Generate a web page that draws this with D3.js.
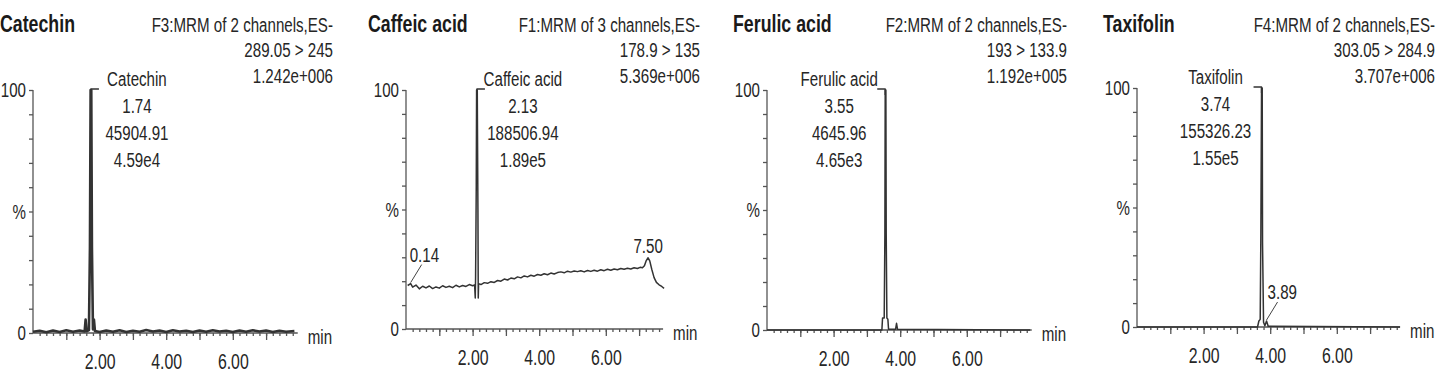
<!DOCTYPE html>
<html>
<head>
<meta charset="utf-8">
<script src="https://cdn.jsdelivr.net/npm/d3@7"></script>
<style>
  body { margin: 0; background: #fff; }
  svg { display: block; }
  text { font-family: "Liberation Sans", Arial, sans-serif; fill: #262626; }
  .title { font-weight: bold; font-size: 24px; fill: #1a1a1a; }
  .head, .peak-label, .small-label, .unit { font-size: 21px; }
  .axis path, .axis line { stroke: #555; stroke-width: 1.3; }
  .axis text { font-size: 21px; fill: #262626; }
  .axis .xlab text { font-size: 22px; }
  .trace { fill: none; stroke: #333; stroke-linejoin: round; }
</style>
</head>
<body>
<div id="vis"></div>
<script>
// chart data
var compounds = ["Catechin", "Caffeic acid", "Ferulic acid", "Taxifolin"];

var channelHeaders = [
  ["F3:MRM of 2 channels,ES-", "289.05 > 245", "1.242e+006"],
  ["F1:MRM of 3 channels,ES-", "178.9 > 135", "5.369e+006"],
  ["F2:MRM of 2 channels,ES-", "193 > 133.9", "1.192e+005"],
  ["F4:MRM of 2 channels,ES-", "303.05 > 284.9", "3.707e+006"]
];

var peakTimes = [1.74, 2.13, 3.55, 3.74];
var peakLabels = [
  ["Catechin", "1.74", "45904.91", "4.59e4"],
  ["Caffeic acid", "2.13", "188506.94", "1.89e5"],
  ["Ferulic acid", "3.55", "4645.96", "4.65e3"],
  ["Taxifolin", "3.74", "155326.23", "1.55e5"]
];

// extra small peak labels: [panel, time, %, text]
var minorPeaks = [
  [1, 0.14, 19.0, "0.14"],
  [1, 7.27, 29.8, "7.50"],
  [3, 3.89, 2.5, "3.89"]
];

var xTickValues = [2, 4, 6];
var xTickLabels = ["2.00", "4.00", "6.00"];
var yTickValues = [0, 10, 20, 30, 40, 50, 60, 70, 80, 90, 100];
var yTickLabels = ["0", "", "", "", "", "%", "", "", "", "", "100"];

// traces: [time (min), intensity %]
var catechinTrace = [
  [0.0, 0.5], [0.2, 0.9], [0.4, 0.3], [0.6, 1.0], [0.8, 0.4], [1.0, 1.1], [1.2, 0.5],
  [1.4, 1.0], [1.55, 0.6], [1.58, 5.5], [1.61, 0.7], [1.68, 1.2], [1.71, 35], [1.73, 100],
  [1.75, 100], [1.77, 35], [1.80, 1.5], [1.83, 5.5], [1.86, 0.8], [2.0, 0.4], [2.2, 1.0],
  [2.4, 0.5], [2.6, 1.1], [2.8, 0.4], [3.0, 0.9], [3.2, 0.5], [3.4, 1.2], [3.6, 0.6],
  [3.8, 1.0], [4.0, 0.4], [4.2, 1.1], [4.4, 0.6], [4.6, 0.9], [4.8, 0.4], [5.0, 1.0],
  [5.2, 0.5], [5.4, 1.1], [5.6, 0.6], [5.8, 0.9], [6.0, 0.4], [6.2, 1.0], [6.4, 0.5],
  [6.6, 1.1], [6.8, 0.6], [7.0, 1.0], [7.2, 0.4], [7.4, 0.9], [7.6, 0.5], [7.85, 0.8]
];

var caffeicTrace = [
  [0.05, 18.2], [0.14, 19.0], [0.2, 17.5], [0.3, 18.4], [0.4, 16.8], [0.5, 17.9], [0.6, 17.2],
  [0.7, 18.0], [0.8, 16.9], [0.9, 17.6], [1.0, 17.1], [1.1, 18.1], [1.2, 17.4], [1.3, 17.9],
  [1.4, 17.3], [1.5, 18.3], [1.6, 17.6], [1.7, 18.2], [1.8, 17.8], [1.9, 18.6], [2.0, 18.1],
  [2.06, 18.4], [2.08, 13], [2.09, 22], [2.11, 60], [2.12, 100], [2.14, 100], [2.16, 50],
  [2.17, 13], [2.18, 19.0], [2.25, 18.6], [2.35, 19.4], [2.45, 19.1], [2.55, 19.8],
  [2.65, 19.5], [2.75, 20.3], [2.85, 20.0], [2.95, 20.9], [3.05, 20.5], [3.15, 21.3],
  [3.25, 21.0], [3.35, 21.8], [3.45, 21.4], [3.55, 22.2], [3.65, 21.8], [3.75, 22.5],
  [3.85, 22.1], [3.95, 22.8], [4.05, 22.5], [4.15, 23.1], [4.25, 22.7], [4.35, 23.4],
  [4.45, 23.0], [4.55, 23.6], [4.65, 23.9], [4.75, 23.5], [4.85, 24.2], [4.95, 23.8],
  [5.05, 24.3], [5.15, 24.0], [5.25, 24.4], [5.35, 23.9], [5.45, 24.5], [5.55, 24.1],
  [5.65, 24.6], [5.75, 24.2], [5.85, 24.8], [5.95, 24.4], [6.05, 25.0], [6.15, 24.6],
  [6.25, 25.1], [6.35, 24.8], [6.45, 25.3], [6.55, 25.0], [6.65, 25.4], [6.75, 25.1],
  [6.85, 25.6], [6.95, 25.3], [7.03, 25.8], [7.10, 25.6], [7.16, 26.5], [7.21, 28.5],
  [7.27, 29.8], [7.32, 28.5], [7.38, 25.0], [7.45, 21.5], [7.52, 19.5], [7.60, 18.5],
  [7.68, 17.8], [7.75, 17.0]
];

var ferulicTrace = [
  [0.0, 0.0], [3.45, 0.0], [3.47, 5.0], [3.52, 5.0], [3.54, 40], [3.55, 100], [3.57, 100],
  [3.58, 40], [3.60, 5.0], [3.63, 4.5], [3.65, 0.3], [3.86, 0.3], [3.89, 2.8], [3.92, 0.3],
  [7.9, 0.0]
];

var taxifolinTrace = [
  [0.0, 0.0], [3.62, 0.0], [3.66, 2.5], [3.70, 3.2], [3.72, 40], [3.74, 100], [3.76, 100],
  [3.77, 35], [3.80, 2.0], [3.84, 0.5], [3.89, 2.5], [3.94, 0.3], [7.9, 0.0]
];

var traces = [catechinTrace, caffeicTrace, ferulicTrace, taxifolinTrace];

// layout (pixel positions for each panel)
var width = 1440, height = 381;
var pxPerMin = 33.3;
var textScale = 0.72, titleScale = 0.74;
var panels = [
  { x0: 33,   y0: 333, y100: 90, xEnd: 7.95, titleX: 0,    headRight: 333,  side: 1,  lw: 2.6 },
  { x0: 406,  y0: 329, y100: 90, xEnd: 7.72, titleX: 368,  headRight: 700,  side: 1,  lw: 1.5 },
  { x0: 767,  y0: 330, y100: 90, xEnd: 7.95, titleX: 733,  headRight: 1067, side: -1, lw: 1.5 },
  { x0: 1137, y0: 327, y100: 88, xEnd: 7.9,  titleX: 1103, headRight: 1435, side: -1, lw: 1.5 }
];

var svg = d3.select('#vis').append('svg')
  .attr('width', width)
  .attr('height', height);

function scalesFor(p) {
  return {
    x: d3.scaleLinear().domain([0, p.xEnd]).range([p.x0, p.x0 + p.xEnd * pxPerMin]),
    y: d3.scaleLinear().domain([0, 100]).range([p.y0, p.y100])
  };
}

panels.forEach(function (p, i) {
  var g = svg.append('g');
  var s = scalesFor(p), x = s.x, y = s.y;

  // title + channel header
  g.append('text')
    .attr('class', 'title')
    .attr('x', p.titleX)
    .attr('y', 32)
    .text(compounds[i]);

  g.selectAll('.head')
    .data(channelHeaders[i])
    .enter().append('text')
    .attr('class', 'head')
    .attr('x', p.headRight)
    .attr('y', function (d, k) { return 32 + k * 25.5; })
    .attr('text-anchor', 'end')
    .text(function (d) { return d; });

  // y axis
  g.append('g')
    .attr('class', 'axis')
    .attr('transform', 'translate(' + p.x0 + ',0)')
    .call(d3.axisLeft(y)
      .tickValues(yTickValues)
      .tickSize(4)
      .tickPadding(3)
      .tickFormat(function (d, k) { return yTickLabels[k]; }))
    .call(function (a) { a.select('.domain').attr('d', 'M0,' + p.y100 + 'V' + p.y0); });

  // x axis: minor ticks, integer ticks, labels
  var xa = g.append('g')
    .attr('class', 'axis')
    .attr('transform', 'translate(0,' + p.y0 + ')');
  xa.append('g')
    .call(d3.axisBottom(x).tickValues(d3.range(0.2, p.xEnd, 0.2)).tickSize(3).tickFormat(''))
    .call(function (a) { a.select('.domain').remove(); });
  xa.append('g')
    .call(d3.axisBottom(x).tickValues(d3.range(1, 8)).tickSize(7).tickFormat(''))
    .call(function (a) { a.select('.domain').remove(); });
  xa.append('g')
    .attr('class', 'xlab')
    .call(d3.axisBottom(x).tickValues(xTickValues).tickSize(0).tickPadding(20)
      .tickFormat(function (d, k) { return xTickLabels[k]; }))
    .call(function (a) { a.select('.domain').attr('d', 'M' + p.x0 + ',0H' + x(p.xEnd)); });

  g.append('text')
    .attr('class', 'unit')
    .attr('x', x(p.xEnd) + 10)
    .attr('y', p.y0 + 11)
    .text('min');

  // chromatogram trace
  var line = d3.line()
    .x(function (d) { return x(d[0]); })
    .y(function (d) { return y(d[1]); });

  g.append('path')
    .datum(traces[i])
    .attr('class', 'trace')
    .attr('stroke-width', p.lw)
    .attr('d', line);

  // main peak annotation: stub + label block
  var px = x(peakTimes[i]);
  var top = y(100) - 1;
  g.append('path')
    .attr('class', 'trace')
    .attr('stroke-width', 1.4)
    .attr('d', 'M' + px + ',' + (top + 6) + 'V' + top + 'h' + (8 * p.side));

  g.selectAll('.peak-label')
    .data(peakLabels[i])
    .enter().append('text')
    .attr('class', 'peak-label')
    .attr('x', px + p.side * 46)
    .attr('y', function (d, k) { return top - 3 + k * 27; })
    .attr('text-anchor', 'middle')
    .text(function (d) { return d; });
});

// minor peak labels with leader lines
minorPeaks.forEach(function (m) {
  var s = scalesFor(panels[m[0]]);
  var px = s.x(m[1]), py = s.y(m[2]);
  var g = svg.append('g');
  if (m[3] === '7.50') {
    g.append('text')
      .attr('class', 'small-label')
      .attr('x', px)
      .attr('y', py - 5)
      .attr('text-anchor', 'middle')
      .text(m[3]);
  } else {
    g.append('line')
      .attr('x1', px).attr('y1', py - 1)
      .attr('x2', px + 11).attr('y2', py - 19)
      .attr('stroke', '#444').attr('stroke-width', 1);
    g.append('text')
      .attr('class', 'small-label')
      .attr('x', m[3] === '0.14' ? px - 1 : px + 1)
      .attr('y', py - 22)
      .text(m[3]);
  }
});

// the original uses a narrow face: squeeze every text around its anchor
svg.selectAll('text').each(function () {
  var el = d3.select(this);
  var a = getComputedStyle(this).textAnchor;
  var origin = a === 'end' ? 'right' : (a === 'middle' ? 'center' : 'left');
  var k = el.classed('title') ? titleScale : textScale;
  el.style('transform-box', 'fill-box')
    .style('transform-origin', origin + ' center')
    .style('transform', 'scaleX(' + k + ')');
});
</script>
</body>
</html>
